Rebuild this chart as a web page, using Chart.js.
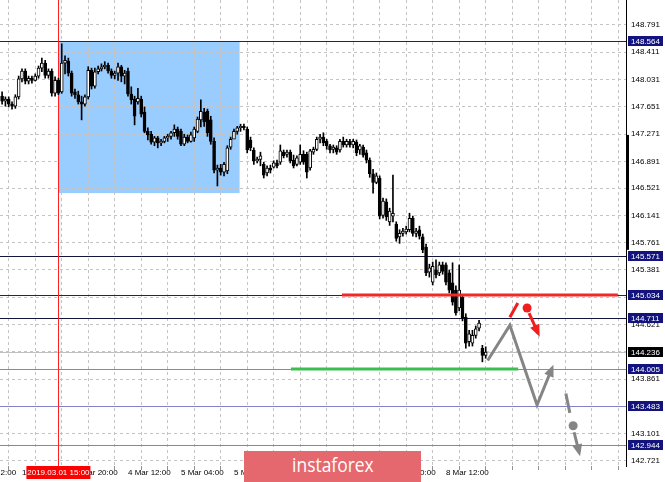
<!DOCTYPE html>
<html>
<head>
<meta charset="utf-8">
<script src="https://cdn.jsdelivr.net/npm/chart.js@4.4.1/dist/chart.umd.min.js"></script>
<style>
  html, body { margin: 0; padding: 0; background: #fff; }
  #wrap { position: relative; width: 665px; height: 482px; overflow: hidden; }
  #logo {
    position: absolute; left: 244px; top: 451px; width: 177px; height: 31px;
    background: #e4686e; text-align: center; line-height: 29px;
  }
  #logo span {
    display: inline-block; color: #fff; font: 20px "Open Sans", sans-serif;
    transform: scaleX(0.87);
  }
</style>
</head>
<body>
<div id="wrap">
  <canvas id="chart" width="665" height="482"></canvas>
  <div id="logo"><span>instaforex</span></div>
</div>
<script>
// H1 candles, index 0 = first visible bar
const opens = [
  147.80, 147.73, 147.76, 147.69, 147.66, 147.79, 148.04, 148.15, 148.01, 148.05,
  148.02, 148.08, 148.19, 148.26, 148.09, 148.15, 147.84, 148.02, 147.86, 148.26,
  148.29, 148.12, 147.86, 147.82, 147.72, 147.69, 147.79, 148.16, 147.94, 148.14,
  148.18, 148.21, 148.23, 148.15, 148.09, 148.12, 148.21, 148.08, 148.15, 147.83,
  147.76, 147.72, 147.76, 147.58, 147.31, 147.27, 147.16, 147.22, 147.15, 147.17,
  147.22, 147.24, 147.29, 147.34, 147.31, 147.13, 147.23, 147.17, 147.22, 147.31,
  147.47, 147.58, 147.59, 147.47, 147.17, 146.77, 146.80, 146.74, 146.76, 147.09,
  147.20, 147.31, 147.36, 147.38, 147.34, 147.19, 147.05, 146.90, 146.92, 146.85,
  146.73, 146.80, 146.81, 146.87, 146.88, 147.02, 146.99, 147.02, 146.91, 146.85,
  146.88, 146.99, 146.99, 146.80, 147.02, 147.06, 147.20, 147.23, 147.17, 147.11,
  147.06, 147.08, 147.05, 147.17, 147.12, 147.17, 147.12, 147.16, 147.05, 147.09,
  147.01, 146.91, 146.72, 146.60, 146.66, 146.14, 146.33, 146.05, 146.13, 146.02,
  145.84, 145.89, 145.91, 145.94, 146.10, 145.89, 145.94, 145.84, 145.70, 145.35,
  145.21, 145.38, 145.34, 145.45, 145.45, 145.34, 145.20, 145.10, 144.85, 145.00,
  144.72, 144.38, 144.36, 144.47, 144.57, 144.29, 144.19
];
const highs = [
  147.86, 147.79, 147.79, 147.72, 147.82, 148.08, 148.18, 148.18, 148.08, 148.08,
  148.11, 148.22, 148.33, 148.30, 148.18, 148.18, 148.07, 148.05, 148.53, 148.36,
  148.33, 148.15, 147.90, 147.87, 147.80, 147.82, 148.21, 148.19, 148.19, 148.22,
  148.25, 148.28, 148.26, 148.18, 148.15, 148.26, 148.23, 148.16, 148.19, 147.93,
  147.80, 147.91, 147.80, 147.65, 147.36, 147.31, 147.24, 147.24, 147.20, 147.24,
  147.27, 147.31, 147.40, 147.37, 147.34, 147.27, 147.26, 147.30, 147.37, 147.51,
  147.75, 147.63, 147.62, 147.52, 147.22, 146.84, 146.85, 146.88, 147.11, 147.23,
  147.34, 147.38, 147.41, 147.41, 147.37, 147.23, 147.08, 146.95, 147.02, 146.88,
  146.83, 146.84, 146.90, 146.91, 147.12, 147.05, 147.05, 147.05, 146.98, 146.97,
  147.12, 147.04, 147.02, 147.06, 147.09, 147.23, 147.27, 147.29, 147.20, 147.13,
  147.12, 147.11, 147.20, 147.23, 147.20, 147.20, 147.20, 147.19, 147.13, 147.12,
  147.05, 146.94, 146.78, 146.73, 146.69, 146.38, 146.37, 146.24, 146.70, 146.05,
  145.94, 145.96, 145.99, 146.17, 146.13, 145.96, 145.99, 145.88, 145.74, 145.46,
  145.49, 145.52, 145.49, 145.49, 145.48, 145.38, 145.48, 145.16, 145.45, 145.04,
  144.77, 144.54, 144.54, 144.60, 144.68, 144.33, 144.31
];
const lows = [
  147.69, 147.66, 147.65, 147.62, 147.63, 147.76, 148.00, 147.97, 147.97, 147.98,
  148.01, 148.05, 148.14, 148.05, 148.05, 147.80, 147.80, 147.82, 147.84, 148.11,
  148.08, 147.80, 147.77, 147.69, 147.47, 147.66, 147.76, 147.90, 147.91, 148.11,
  148.15, 148.18, 148.12, 148.05, 148.04, 148.02, 148.00, 147.97, 147.80, 147.69,
  147.40, 147.69, 147.51, 147.29, 147.19, 147.13, 147.11, 147.08, 147.11, 147.15,
  147.17, 147.20, 147.24, 147.20, 147.11, 147.11, 147.15, 147.16, 147.17, 147.29,
  147.37, 147.38, 147.24, 147.13, 146.73, 146.55, 146.70, 146.69, 146.72, 147.06,
  147.22, 147.27, 147.31, 147.33, 147.01, 147.04, 146.85, 146.87, 146.83, 146.66,
  146.69, 146.73, 146.80, 146.80, 146.85, 146.94, 146.95, 146.87, 146.80, 146.83,
  146.85, 146.85, 146.66, 146.77, 146.99, 147.04, 147.15, 147.11, 147.06, 147.01,
  147.01, 146.99, 147.02, 147.09, 147.09, 147.09, 147.08, 146.97, 146.99, 146.95,
  146.87, 146.67, 146.45, 146.58, 146.09, 146.10, 146.07, 146.00, 146.05, 145.78,
  145.75, 145.85, 145.88, 145.91, 145.85, 145.84, 145.81, 145.62, 145.30, 145.28,
  145.17, 145.27, 145.30, 145.32, 145.17, 145.06, 144.89, 144.75, 144.81, 144.67,
  144.29, 144.32, 144.32, 144.43, 144.53, 144.10, 144.15
];
const closes = [
  147.73, 147.76, 147.69, 147.66, 147.79, 148.04, 148.15, 148.01, 148.05, 148.02,
  148.08, 148.19, 148.26, 148.09, 148.15, 147.84, 148.02, 147.84, 148.26, 148.30,
  148.12, 147.84, 147.82, 147.72, 147.69, 147.79, 148.16, 147.94, 148.14, 148.18,
  148.21, 148.23, 148.15, 148.09, 148.12, 148.21, 148.08, 148.12, 147.83, 147.75,
  147.52, 147.77, 147.55, 147.31, 147.26, 147.16, 147.22, 147.15, 147.17, 147.22,
  147.24, 147.29, 147.34, 147.24, 147.13, 147.23, 147.17, 147.26, 147.34, 147.48,
  147.59, 147.44, 147.29, 147.17, 146.77, 146.80, 146.74, 146.85, 147.08, 147.20,
  147.31, 147.36, 147.38, 147.36, 147.05, 147.08, 146.90, 146.92, 146.97, 146.70,
  146.80, 146.77, 146.87, 146.83, 147.04, 146.97, 147.02, 146.90, 146.83, 146.94,
  146.99, 146.88, 146.74, 147.04, 147.06, 147.20, 147.23, 147.15, 147.11, 147.05,
  147.09, 147.02, 147.17, 147.12, 147.17, 147.12, 147.17, 147.01, 147.11, 146.98,
  146.91, 146.72, 146.60, 146.69, 146.13, 146.34, 146.12, 146.20, 146.17, 145.82,
  145.89, 145.92, 145.95, 146.10, 145.89, 145.92, 145.85, 145.66, 145.34, 145.41,
  145.43, 145.31, 145.45, 145.36, 145.21, 145.10, 144.93, 144.78, 145.10, 144.71,
  144.36, 144.49, 144.47, 144.56, 144.64, 144.19, 144.236
];

// price scale
const priceTicks = [148.791, 148.411, 148.031, 147.651, 147.271, 146.891, 146.521, 146.141,
  145.761, 145.381, 145.001, 144.621, 144.241, 143.861, 143.481, 143.101, 142.721];
const priceMin = 142.65;
const priceMax = 149.139;

// time scale (bar index of each label / grid line)
const timeLabelBars = [-10, 6, 22, 38, 54, 70, 86, 102, 118, 134];
const timeLabels = ['28 Feb 12:00', '1 Mar 04:00', '1 Mar 20:00', '4 Mar 12:00', '5 Mar 04:00',
  '5 Mar 20:00', '6 Mar 12:00', '7 Mar 04:00', '7 Mar 20:00', '8 Mar 12:00'];
const gridBars = [6, 14, 22, 30, 38, 46, 54, 62, 70, 78, 86, 94, 102, 110, 118, 126, 134, 142,
  150, 158, 166, 174, 182];
const markerBar = 17;
const markerText = '2019.03.01 15:00';

// horizontal levels on the right scale
const levelValues = [148.564, 145.571, 145.034, 144.711, 144.236, 144.005, 143.483, 142.944];
const levelKinds = ['res', 'dark', 'res', 'dark', 'bid', 'sup', 'sup', 'sup'];

// blue zone
const zoneBars = [17, 71.7];
const zonePrices = [146.45, 148.56];
const sideBar = [145.66, 147.26];

// drawn forecast
const redLineX = [102.6, 185.9], redLineY = [145.03, 145.03];
const greenLineX = [87.2, 155.8], greenLineY = [144.00, 144.00];
const zigzagX = [146.6, 153.3, 161.5, 166.0], zigzagY = [144.12, 144.61, 143.50, 144.01];
const redSlashX = [153.3, 155.7], redSlashY = [144.72, 144.92];
const redDotX = [158.5], redDotY = [144.85];
const redArrowX = [159.1, 161.8], redArrowY = [144.78, 144.50];
const grayDashX = [170.2, 171.4], grayDashY = [143.66, 143.39];
const grayDotX = [172.4], grayDotY = [143.21];
const grayArrowX = [172.7, 174.2], grayArrowY = [143.12, 142.84];

const FONT = '8px "Liberation Sans", Arial, sans-serif';

function pts(xs, ys) {
    return xs.map((x, i) => ({ x: x, y: ys[i] }));
}

function lineSet(xs, ys, color, width, arrow) {
    return {
        type: 'line', data: pts(xs, ys), borderColor: color, borderWidth: width,
        pointRadius: 0, fill: false, tension: 0, order: 0, arrow: !!arrow,
        borderCapStyle: 'butt', borderJoinStyle: 'miter'
    };
}

function dotSet(xs, ys, color) {
    return {
        type: 'line', data: pts(xs, ys), showLine: false, pointRadius: 4.5,
        pointBackgroundColor: color, pointBorderColor: color, pointBorderWidth: 0, order: 0
    };
}

const isBull = i => closes[i] >= opens[i];

const overlay = {
    id: 'overlay',
    beforeDraw(chart) {
        const { ctx, scales: { x, y } } = chart;
        ctx.save();
        ctx.fillStyle = '#99ccff';
        const x1 = x.getPixelForValue(zoneBars[0]), x2 = x.getPixelForValue(zoneBars[1]);
        const y1 = y.getPixelForValue(zonePrices[1]), y2 = y.getPixelForValue(zonePrices[0]);
        ctx.fillRect(x1, y1, x2 - x1, y2 - y1);
        ctx.restore();
    },
    beforeDatasetsDraw(chart) {
        const { ctx, chartArea: a, scales: { x, y } } = chart;
        const colors = { res: '#1c1c8a', dark: '#14143c', bid: '#c0c0c0', sup: '#8282c8' };
        ctx.save();
        ctx.lineWidth = 1;
        levelValues.forEach((v, i) => {
            const py = Math.round(y.getPixelForValue(v)) + 0.5;
            ctx.strokeStyle = colors[levelKinds[i]];
            ctx.beginPath(); ctx.moveTo(a.left, py); ctx.lineTo(a.right, py); ctx.stroke();
        });
        // vertical time marker
        const mx = Math.round(x.getPixelForValue(markerBar)) + 0.5;
        ctx.strokeStyle = '#ff2020';
        ctx.beginPath(); ctx.moveTo(mx, a.top); ctx.lineTo(mx, a.bottom); ctx.stroke();
        ctx.restore();
    },
    afterDatasetsDraw(chart) {
        const { ctx } = chart;
        chart.data.datasets.forEach((ds, idx) => {
            if (!ds.arrow) return;
            const el = chart.getDatasetMeta(idx).data;
            const p1 = el[el.length - 2], p2 = el[el.length - 1];
            const ang = Math.atan2(p2.y - p1.y, p2.x - p1.x);
            const len = 12, half = 5;
            const tx = p2.x + Math.cos(ang) * 4, ty = p2.y + Math.sin(ang) * 4;
            ctx.save();
            ctx.fillStyle = ds.borderColor;
            ctx.beginPath();
            ctx.moveTo(tx, ty);
            ctx.lineTo(tx - len * Math.cos(ang) + half * Math.sin(ang), ty - len * Math.sin(ang) - half * Math.cos(ang));
            ctx.lineTo(tx - len * Math.cos(ang) - half * Math.sin(ang), ty - len * Math.sin(ang) + half * Math.cos(ang));
            ctx.closePath();
            ctx.fill();
            ctx.restore();
        });
    },
    afterDraw(chart) {
        const { ctx, chartArea: a, scales: { x, y } } = chart;
        ctx.save();
        // thick bar at the price scale edge
        ctx.fillStyle = '#000';
        const sy1 = y.getPixelForValue(sideBar[1]), sy2 = y.getPixelForValue(sideBar[0]);
        ctx.fillRect(a.right, sy1, 3, sy2 - sy1);

        // level price boxes
        ctx.font = FONT;
        ctx.textBaseline = 'middle';
        ctx.textAlign = 'left';
        levelValues.forEach((v, i) => {
            const py = Math.round(y.getPixelForValue(v));
            ctx.fillStyle = levelKinds[i] === 'bid' ? '#000' : '#13137e';
            ctx.fillRect(a.right + 2, py - 5, 35, 10);
            ctx.fillStyle = '#fff';
            ctx.fillText(v.toFixed(3), a.right + 5, py + 0.5);
        });

        // time labels
        ctx.fillStyle = '#000';
        timeLabelBars.forEach((b, i) => {
            ctx.fillText(timeLabels[i], x.getPixelForValue(b), a.bottom + 7);
        });

        // marker date box
        const mx = x.getPixelForValue(markerBar);
        ctx.fillStyle = '#ff0000';
        ctx.fillRect(mx - 32, a.bottom, 64, 13);
        ctx.fillStyle = '#fff';
        ctx.textAlign = 'center';
        ctx.fillText(markerText, mx, a.bottom + 7);
        ctx.restore();
    }
};

const bars = opens.map((o, i) => i);

new Chart(document.getElementById('chart'), {
    type: 'bar',
    data: {
        datasets: [
            lineSet(redLineX, redLineY, '#f02828', 3),
            lineSet(greenLineX, greenLineY, '#3cbf50', 3),
            lineSet(zigzagX, zigzagY, '#858585', 3, true),
            lineSet(redSlashX, redSlashY, '#f01e1e', 3),
            dotSet(redDotX, redDotY, '#f01e1e'),
            lineSet(redArrowX, redArrowY, '#f01e1e', 3, true),
            lineSet(grayDashX, grayDashY, '#858585', 3),
            dotSet(grayDotX, grayDotY, '#858585'),
            lineSet(grayArrowX, grayArrowY, '#858585', 3, true),
            {
                label: 'body',
                data: bars.map(i => ({ x: i, y: [opens[i], closes[i]] })),
                backgroundColor: c => isBull(c.dataIndex) ? '#ffffff' : '#000000',
                borderColor: '#000',
                borderWidth: 1,
                borderSkipped: false,
                barThickness: 3,
                grouped: false,
                order: 1
            },
            {
                label: 'wick',
                data: bars.map(i => ({ x: i, y: [lows[i], highs[i]] })),
                backgroundColor: '#000',
                borderWidth: 0,
                barThickness: 1,
                grouped: false,
                order: 2
            }
        ]
    },
    options: {
        responsive: false,
        animation: false,
        events: [],
        layout: { padding: 0, autoPadding: false },
        plugins: { legend: { display: false }, tooltip: { enabled: false } },
        scales: {
            x: {
                type: 'linear',
                min: -0.634,
                max: 188.36,
                offset: false,
                afterBuildTicks: s => { s.ticks = gridBars.map(v => ({ value: v })); },
                afterFit: s => { s.height = 16; s.paddingLeft = 0; s.paddingRight = 0; },
                ticks: { display: false },
                grid: { color: '#c4c4c4', drawTicks: true, tickLength: 4, tickColor: '#909090' },
                border: { display: false, dash: [3, 3] }
            },
            y: {
                type: 'linear',
                position: 'right',
                min: priceMin,
                max: priceMax,
                afterBuildTicks: s => { s.ticks = priceTicks.map(v => ({ value: v })); },
                afterFit: s => { s.width = 39; s.paddingTop = 0; s.paddingBottom = 0; },
                ticks: {
                    callback: v => v.toFixed(3),
                    font: { family: '"Liberation Sans", Arial, sans-serif', size: 8 },
                    color: '#000',
                    padding: 5,
                    autoSkip: false
                },
                grid: { color: '#c4c4c4', drawTicks: false },
                border: { display: true, color: '#000', dash: [3, 3] }
            }
        }
    },
    plugins: [overlay]
});
</script>
</body>
</html>
